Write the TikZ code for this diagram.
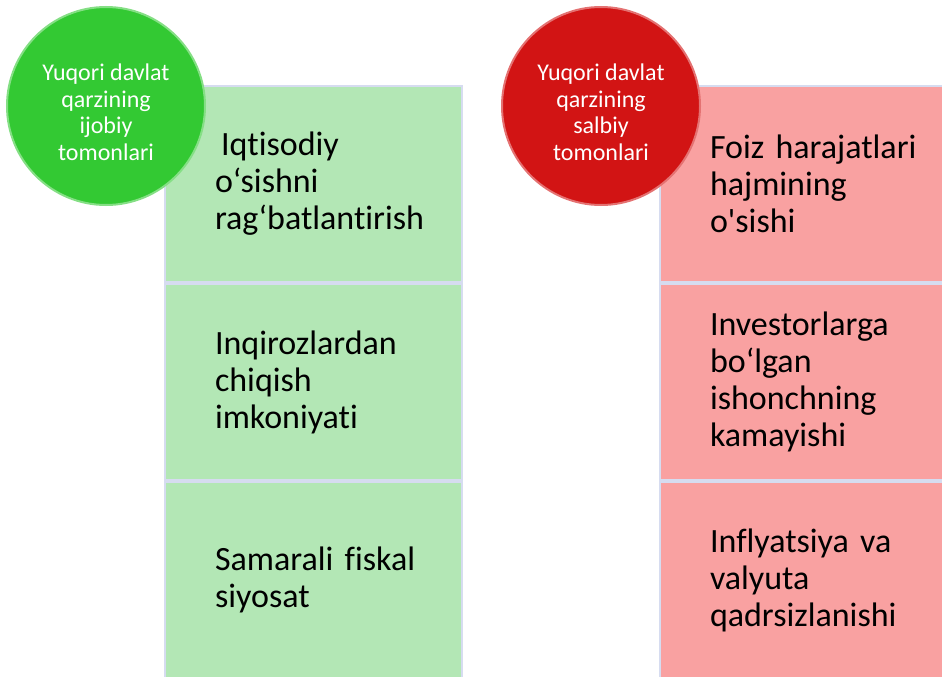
\documentclass[tikz,border=0pt]{standalone}
\usepackage{fontspec}
\setmainfont{Carlito}[Ligatures={NoCommon}]
\definecolor{plusfill}{RGB}{179,231,181}
\definecolor{minusfill}{RGB}{249,161,161}
\definecolor{boxline}{RGB}{214,220,240}
\definecolor{plusball}{RGB}{51,201,51}
\definecolor{minusball}{RGB}{210,20,20}

\begin{document}
\begin{tikzpicture}[x=1pt,y=-1pt]


 \tikzset{
    box/.style={
      rectangle,
      minimum width=297pt,
      minimum height=196pt,
      text width=197pt,
      inner xsep=50pt,
      inner ysep=0pt,
      align=left,
      font=\fontsize{34}{37}\selectfont,
      draw=boxline,
      line width=1.5pt
    },
    plusbox/.style={box, fill=plusfill},
    minusbox/.style={box, fill=minusfill},
    ball/.style={
      circle,
      minimum size=198pt,
      inner sep=0pt,
      text=white,
      align=center,
      text height=109pt,
      font=\fontsize{24}{26.5}\selectfont,
      line width=2pt
    }
  }

\useasboundingbox (0,0) rectangle (942,677);

% ijobiy tomonlari
\node[plusbox] (pos1) at (313.5,184) {\hspace*{6pt}Iqtisodiy\\o‘sishni\\\mbox{rag‘batlantirish}};
\node[plusbox] (pos2) at (313.5,382) {Inqirozlardan\\chiqish\\imkoniyati};
\node[plusbox] (pos3) at (313.5,580) {\mbox{Samarali fiskal}\\siyosat};

% salbiy tomonlari
\node[minusbox] (neg1) at (808.5,184) {\mbox{Foiz harajatlari}\\hajmining\\o\textquotesingle sishi};
\node[minusbox] (neg2) at (808.5,382) {Investorlarga\\bo‘lgan\\ishonchning\\kamayishi};
\node[minusbox] (neg3) at (808.5,580) {\mbox{Inflyatsiya va}\\valyuta\\\mbox{qadrsizlanishi}};

\node[ball, fill=plusball, draw=plusball!60!white] (posball) at (106,106) {Yuqori davlat\\qarzining\\ijobiy\\tomonlari};
\node[ball, fill=minusball, draw=minusball!60!white] (negball) at (601,106) {Yuqori davlat\\qarzining\\salbiy\\tomonlari};
\end{tikzpicture}
\end{document}
